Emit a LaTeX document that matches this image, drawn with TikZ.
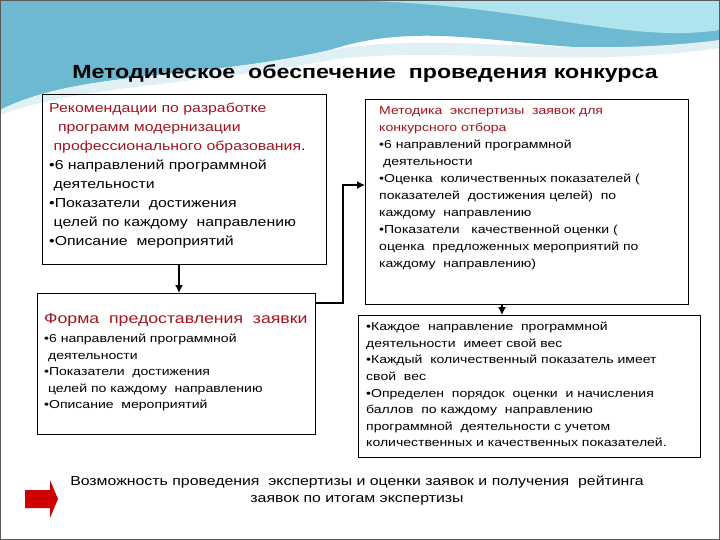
\documentclass[tikz,border=0pt]{standalone}
\usepackage{fontspec}
\setmainfont[FakeStretch=1.22]{Liberation Sans}
\usetikzlibrary{arrows.meta}
\definecolor{dred}{RGB}{165,20,30}
\definecolor{wave1}{RGB}{110,185,210}
\definecolor{wave2}{RGB}{175,228,238}
\definecolor{wave3}{RGB}{225,240,245}
\begin{document}
\begin{tikzpicture}[x=1pt,y=-1pt,
  box/.style={draw=black,line width=0.8pt},
  txt/.style={anchor=north west,inner sep=0pt,align=left},
  conn/.style={line width=1.4pt,-{Latex[length=8pt,width=8pt]}}]
\useasboundingbox (0,0) rectangle (720,540);
\fill[white] (0,0) rectangle (720,540);
% top wave background
\fill[wave1] (0,0) -- (720,0) -- (720,40) .. controls (560,70) and (450,10) .. (330,50) .. controls (200,80) and (80,70) .. (0,110) -- cycle;
\fill[wave2] (320,0) -- (720,0) -- (720,30) .. controls (620,45) and (520,0) .. (320,0) -- cycle;
\fill[wave3] (0,110) .. controls (80,70) and (200,80) .. (330,50) .. controls (450,30) and (560,60) .. (720,40) -- (720,48) .. controls (560,70) and (450,45) .. (330,60) .. controls (200,85) and (80,85) .. (0,115) -- cycle;
\draw[gray!70!black,line width=1.2pt] (0.6,0.6) rectangle (719.4,539.4);
% title
\node[font=\bfseries\fontsize{19}{22}\selectfont] (title) at (365,74) {Методическое\ \ обеспечение\ \ проведения конкурса};
% boxes
\draw[box] (42,94) rectangle (326,264);
\coordinate (b1b) at (179,264);
\node[txt,font=\fontsize{13}{19}\selectfont] (t1) at (49,103) {\textcolor{dred}{Рекомендации по разработке}\\
\textcolor{dred}{\ \ программ модернизации}\\
\textcolor{dred}{\ профессионального образования}.\\
•6 направлений программной\\
\ деятельности\\
•Показатели\ \ достижения\\
\ целей по каждому\ \ направлению\\
•Описание\ \ мероприятий};
\draw[box] (37,293) rectangle (315,434);
\coordinate (b2t) at (179,293);
\coordinate (b2r) at (315,303);
\node[txt,font=\fontsize{14.5}{18}\selectfont,text=dred] (t2h) at (44,313) {Форма\ \ предоставления\ \ заявки};
\node[txt,font=\fontsize{11.5}{16.5}\selectfont] (t2) at (44,334) {•6 направлений программной\\
\ деятельности\\
•Показатели\ \ достижения\\
\ целей по каждому\ \ направлению\\
•Описание\ \ мероприятий};
\draw[box] (365,99) rectangle (688,304);
\coordinate (b3l) at (365,185);
\coordinate (b3b) at (502,304);
\node[txt,font=\fontsize{11.5}{17}\selectfont] (t3) at (379,106) {\textcolor{dred}{Методика\ \ экспертизы\ \ заявок для}\\
\textcolor{dred}{конкурсного отбора}\\
•6 направлений программной\\
\ деятельности\\
•Оценка\ \ количественных показателей (\\
показателей\ \ достижения целей)\ \ по\\
каждому\ \ направлению\\
•Показатели\ \ \ качественной оценки (\\
оценка\ \ предложенных мероприятий по\\
каждому\ \ направлению)};
\draw[box] (358,315) rectangle (700,457);
\coordinate (b4t) at (502,315);
\node[txt,font=\fontsize{11.5}{16.6}\selectfont] (t4) at (366,322) {•Каждое\ \ направление\ \ программной\\
деятельности\ \ имеет свой вес\\
•Каждый\ \ количественный показатель имеет\\
свой\ \ вес\\
•Определен\ \ порядок\ \ оценки\ \ и начисления\\
баллов\ \ по каждому\ \ направлению\\
программной\ \ деятельности с учетом\\
количественных и качественных показателей.};
% connectors
\draw[conn] (b1b) -- (b2t);
\draw[conn] (b2r) -| (343,185) -- (b3l);
\draw[conn] (b3b) -- (b4t);
% bottom
\fill[red!80!black] (25,490) -- (50,490) -- (50,480) -- (58,499) -- (50,518) -- (50,508) -- (25,508) -- cycle;
\node[font=\fontsize{13}{17}\selectfont,align=center] (bt) at (357,491) {Возможность проведения\ \ экспертизы и оценки заявок и получения\ \ рейтинга\\заявок по итогам экспертизы};
\end{tikzpicture}
\end{document}
